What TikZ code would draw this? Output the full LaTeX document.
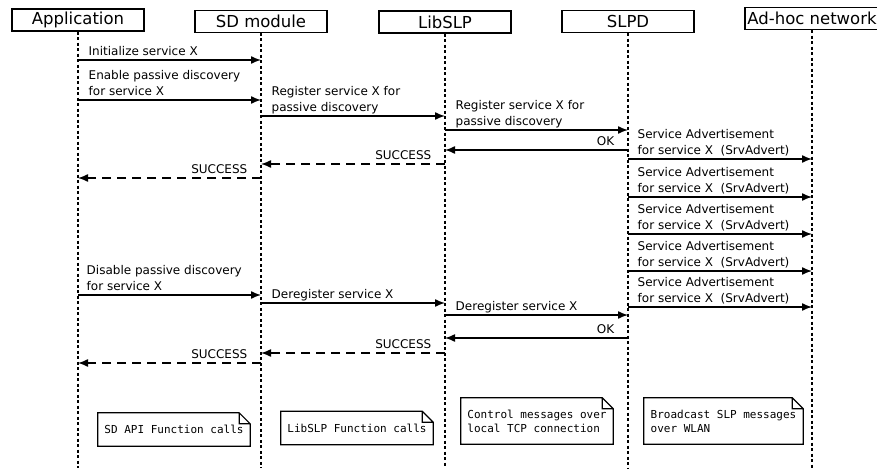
\documentclass[tikz,border=0pt]{standalone}
\usepackage{fontspec}
\setmainfont{DejaVu Sans}
\setmonofont{DejaVu Sans Mono}
\usetikzlibrary{arrows.meta}

\tikzset{
	actor/.style={draw, line width=1.2pt, minimum width=132pt, minimum height=22pt, inner sep=0pt, font=\fontsize{16.5}{18}\selectfont},
	life/.style={line width=1.6pt, dash pattern=on 3pt off 2.5pt},
	call/.style={line width=1.4pt, -{Latex[length=10pt,width=8pt]}},
	reply/.style={call, dash pattern=on 9pt off 6pt},
	lbl/.style={font=\fontsize{12}{16}\selectfont, align=left, text depth=0pt, inner xsep=10pt, inner ysep=3.5pt, pos=0, anchor=south west},
	rlbl/.style={font=\fontsize{12}{16}\selectfont, text depth=0pt, inner xsep=13pt, inner ysep=4pt, pos=0, anchor=south east},
	notebox/.style={font=\ttfamily\fontsize{11}{14}\selectfont, align=left, inner sep=0pt, minimum height=33pt}
}

\begin{document}
\begin{tikzpicture}[x=1pt,y=-1pt]
	\useasboundingbox (0,0) rectangle (877,468);

	% participants
	\node[actor] (app) at (78,20) {Application};
	\node[actor] (sd) at (261,21.3) {SD module};
	\node[actor] (lib) at (445,22) {LibSLP};
	\node[actor] (slpd) at (628,21.5) {SLPD};
	\node[actor, minimum width=134pt] (net) at (812,18.5) {Ad-hoc network};

	% lifelines
	\foreach \p in {app,sd,lib,slpd,net}
		\draw[life] (\p.south) -- (\p |- 0,468);

	% registering
	\draw[call] (app |- 0,60) -- (sd |- 0,60) node[lbl] {Initialize service X};
	\draw[call] (app |- 0,100) -- (sd |- 0,100) node[lbl] {Enable passive discovery\\for service X};
	\draw[call] (sd |- 0,116) -- (lib |- 0,116) node[lbl] {Register service X for\\passive discovery};
	\draw[call] (lib |- 0,130) -- (slpd |- 0,130) node[lbl] {Register service X for\\passive discovery};
	\draw[call] (slpd |- 0,150) -- (lib |- 0,150) node[rlbl] {OK};
	\draw[reply] (lib |- 0,164) -- (sd |- 0,164) node[rlbl] {SUCCESS};
	\draw[reply] (sd |- 0,178) -- (app |- 0,178) node[rlbl] {SUCCESS};

	% advertisements
	\foreach \y in {159,197,234,271,307}
		\draw[call] (slpd |- 0,\y) -- (net |- 0,\y) node[lbl, inner xsep=9pt] {Service Advertisement\\for service X\ \ (SrvAdvert)};

	% deregistering
	\draw[call] (app |- 0,295) -- (sd |- 0,295) node[lbl, inner xsep=8pt] {Disable passive discovery\\for service X};
	\draw[call] (sd |- 0,303) -- (lib |- 0,303) node[lbl] {Deregister service X};
	\draw[call] (lib |- 0,315) -- (slpd |- 0,315) node[lbl] {Deregister service X};
	\draw[call] (slpd |- 0,338) -- (lib |- 0,338) node[rlbl] {OK};
	\draw[reply] (lib |- 0,353) -- (sd |- 0,353) node[rlbl] {SUCCESS};
	\draw[reply] (sd |- 0,363) -- (app |- 0,363) node[rlbl] {SUCCESS};

	% notes
	\node[notebox, minimum width=152pt] (napi) at (174,429.5) {SD API Function calls};
	\node[notebox, minimum width=152pt] (nlib) at (357,428) {LibSLP Function calls};
	\node[notebox, minimum width=152pt, minimum height=46pt] (ntcp) at (537,421) {Control messages over\\local TCP connection};
	\node[notebox, minimum width=159pt, minimum height=46pt] (nwlan) at (723.5,421) {Broadcast SLP messages\\over WLAN};
	\foreach \n in {napi,nlib,ntcp,nwlan}
		\draw[line width=1.2pt] (\n.south west) -- (\n.north west) -- ([xshift=-11pt]\n.north east) -- ([yshift=-11pt]\n.north east) -- (\n.south east) -- cycle
			([xshift=-11pt]\n.north east) |- ([yshift=-11pt]\n.north east);
\end{tikzpicture}
\end{document}
